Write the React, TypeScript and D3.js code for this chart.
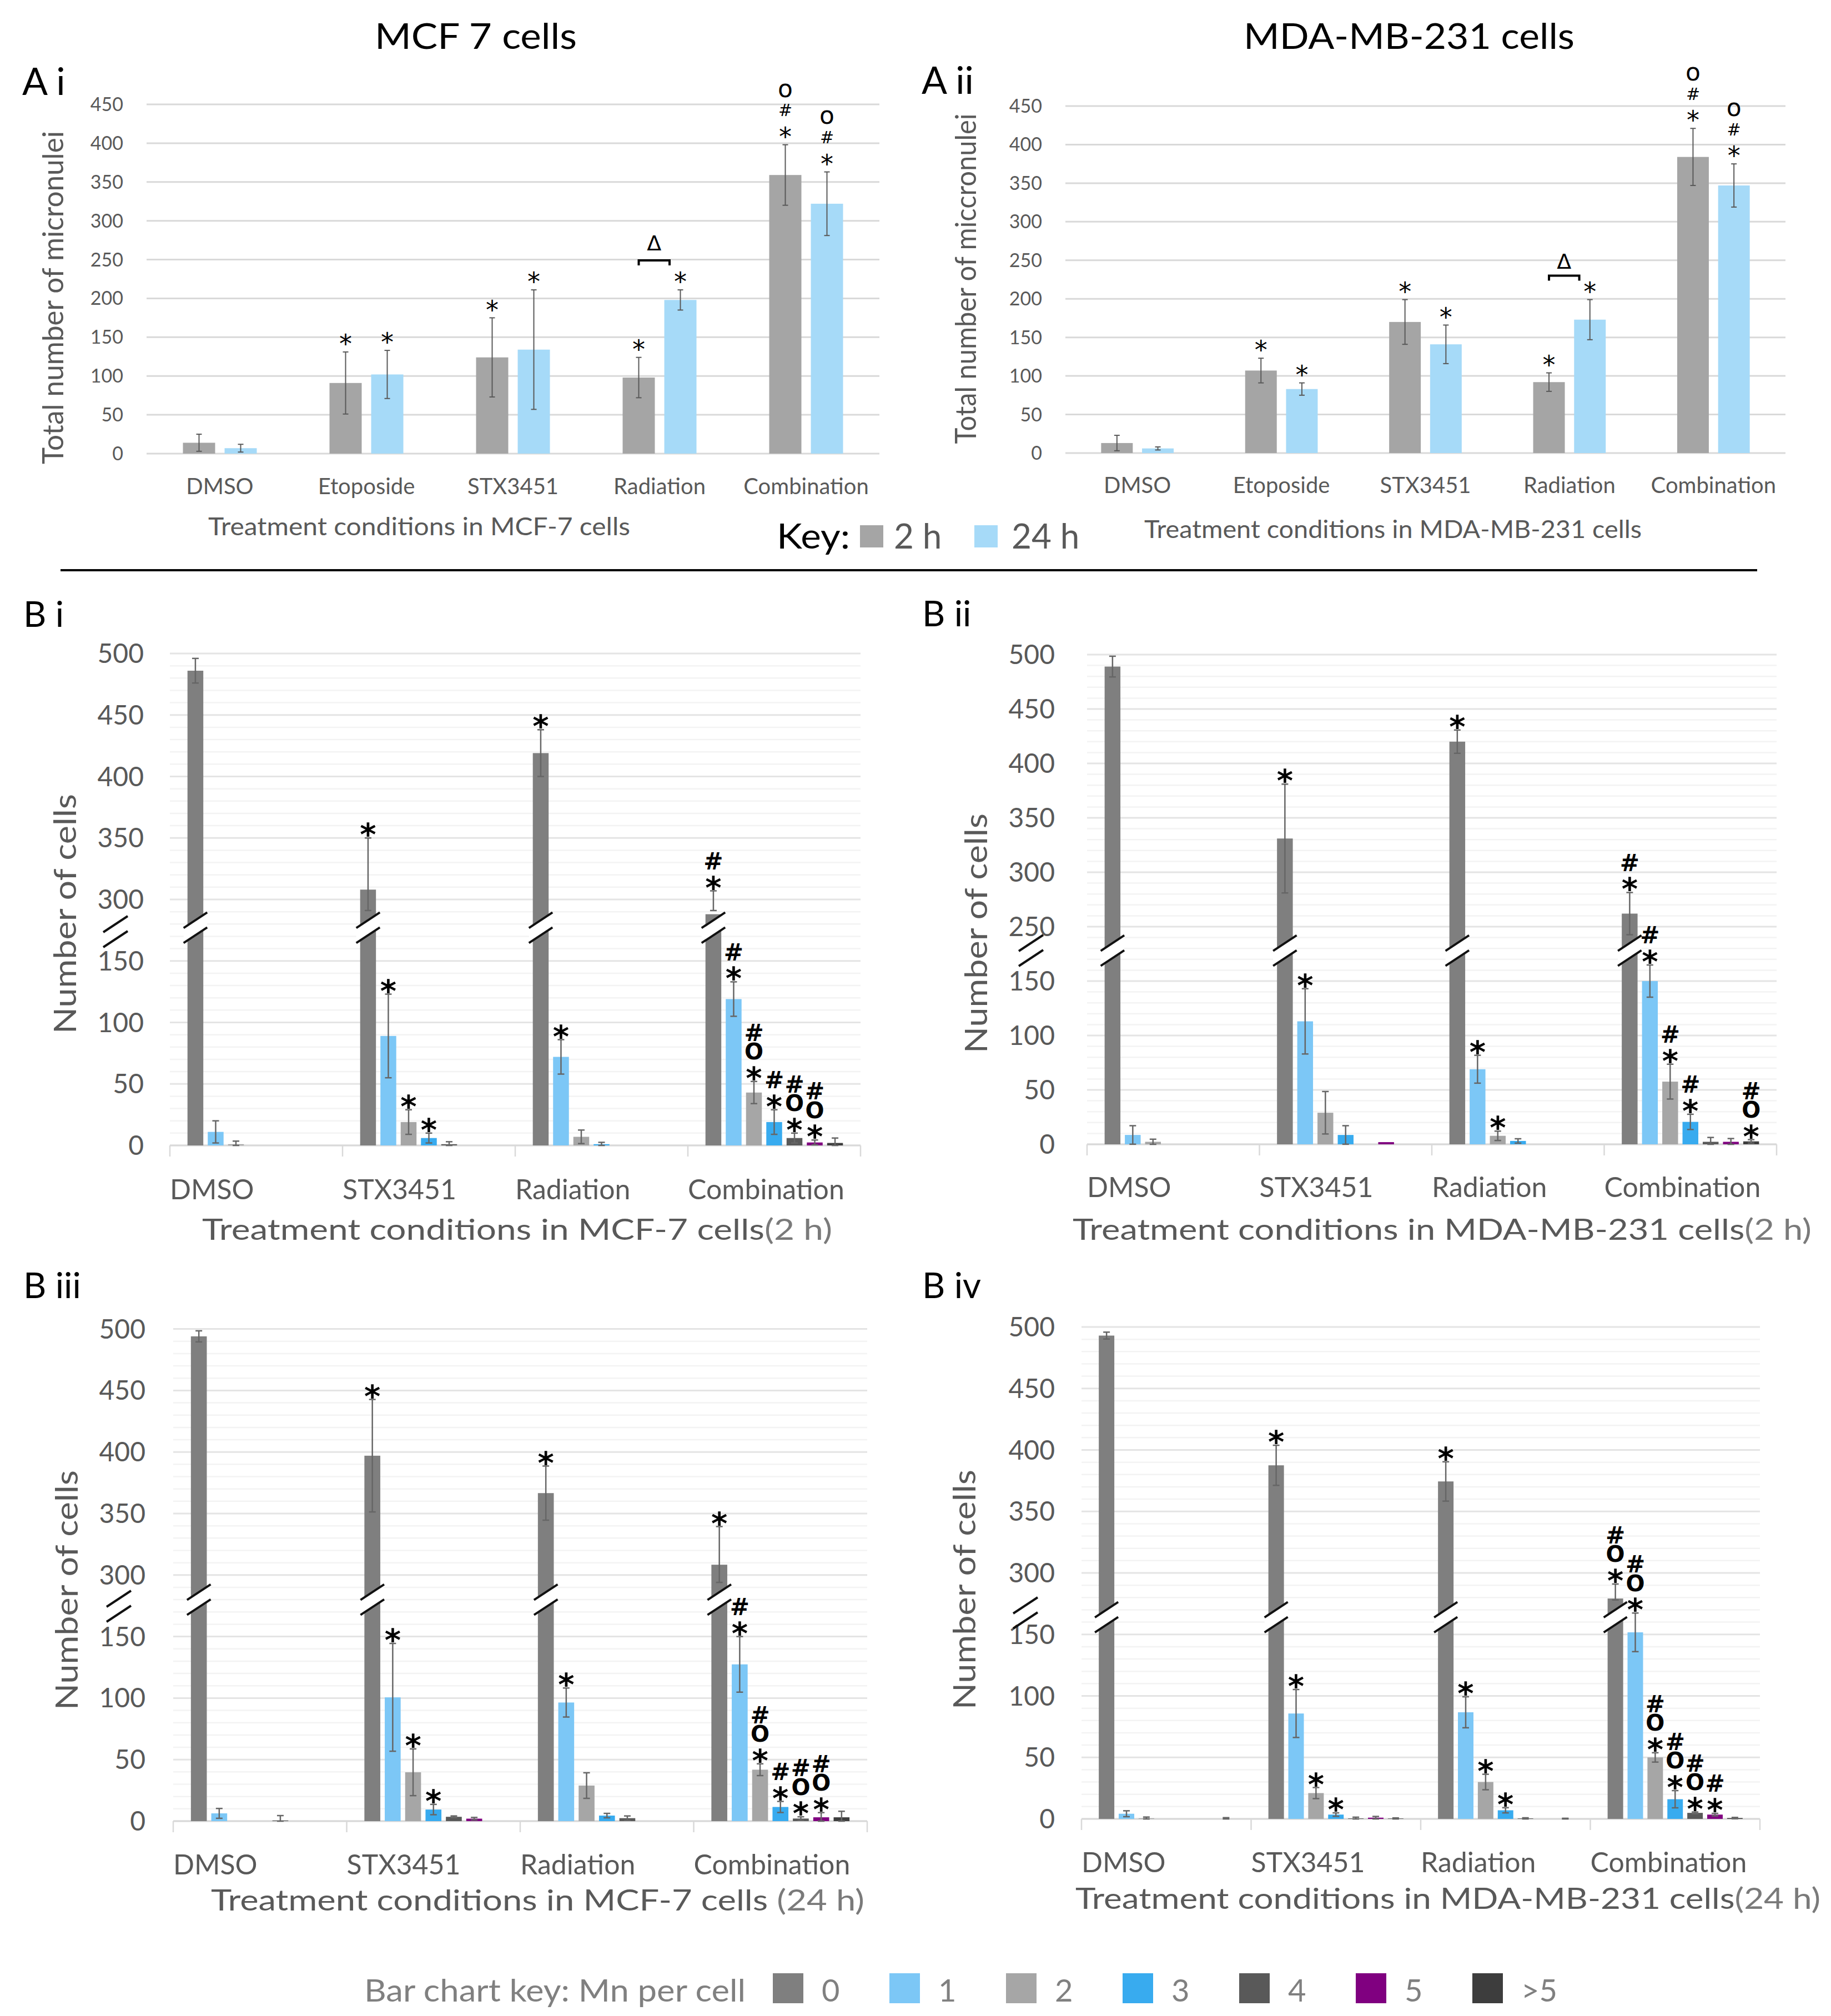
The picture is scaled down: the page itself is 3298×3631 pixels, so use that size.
import React from "react";
import * as d3 from "d3";

// ---------------- DATA ----------------
const A_CATEGORIES = ["DMSO", "Etoposide", "STX3451", "Radiation", "Combination"];
const A_SERIES = ["2 h", "24 h"];
const A_TICKS = [0, 50, 100, 150, 200, 250, 300, 350, 400, 450];

const AI_2H = [14, 91, 124, 98, 359];
const AI_2H_ERR = [11, 40, 51, 26, 39];
const AI_24H = [7, 102, 134, 198, 322];
const AI_24H_ERR = [5, 31, 77, 13, 41];
const AI_2H_SIG = ["", "*", "*", "*", "*#o"];
const AI_24H_SIG = ["", "*", "*", "*", "*#o"];
const AI_BRACKET = 249;
const AI_DELTA = 272;

const AII_2H = [13, 107, 170, 92, 384];
const AII_2H_ERR = [10, 16, 29, 12, 37];
const AII_24H = [6, 83, 141, 173, 347];
const AII_24H_ERR = [2, 8, 25, 26, 28];
const AII_2H_SIG = ["", "*", "*", "*", "*#o"];
const AII_24H_SIG = ["", "*", "*", "*", "*#o"];
const AII_BRACKET = 230;
const AII_DELTA = 249;

const B_CATEGORIES = ["DMSO", "STX3451", "Radiation", "Combination"];
const MN_CLASSES = ["0", "1", "2", "3", "4", "5", ">5"];
const MN_COLORS = ["#7f7f7f", "#7cc7f6", "#a6a6a6", "#38abef", "#595959", "#800080", "#3d3d3d"];

// B i : MCF-7, 2 h
const BI_VALUES = [
  [486, 11, 1, 0, 0, 0, 0],
  [308, 89, 19, 6, 1, 0, 0],
  [419, 72, 7, 1, 0, 0, 0],
  [288, 119, 43, 19, 6, 2.4, 2],
];
const BI_ERRORS = [
  [10, 9, 2.5, 0, 0, 0, 0],
  [42, 34, 10, 4, 2, 0, 0],
  [19, 14, 5.5, 1.5, 0, 0, 0],
  [19, 14, 9, 10, 4, 2, 4],
];
const BI_SIGS = [
  ["", "", "", "", "", "", ""],
  ["*", "*", "*", "*", "", "", ""],
  ["*", "*", "", "", "", "", ""],
  ["*#", "*#", "*O#", "*#", "*O#", "*O#", ""],
];

// B ii : MDA-MB-231, 2 h
const BII_VALUES = [
  [489, 8.6, 2.3, 0, 0, 0, 0],
  [331, 113, 29, 8.6, 0, 2, 0],
  [420, 69, 7.8, 3.1, 0, 0, 0],
  [262, 150, 57.6, 20.6, 2.3, 2.3, 2.7],
];
const BII_ERRORS = [
  [9.5, 8.5, 2.4, 0, 0, 0, 0],
  [50, 30, 19.5, 8.5, 0, 0, 0],
  [10.7, 12.8, 4.3, 2, 0, 0, 0],
  [19.4, 14.8, 16, 7, 4, 3, 1.6],
];
const BII_SIGS = [
  ["", "", "", "", "", "", ""],
  ["*", "*", "", "", "", "", ""],
  ["*", "*", "*", "", "", "", ""],
  ["*#", "*#", "*#", "*#", "", "", "*O#"],
];

// B iii : MCF-7, 24 h
const BIII_VALUES = [
  [494, 6.3, 0, 0, 0.5, 0, 0],
  [397, 100.6, 39.7, 9.4, 3.5, 2, 0],
  [366.6, 96.4, 28.9, 4.5, 2.4, 0, 0],
  [308.4, 127.4, 41.8, 11.5, 2.1, 3.1, 3.1],
];
const BIII_ERRORS = [
  [4.5, 4, 0, 0, 4, 0, 0],
  [45.7, 43.8, 19, 4.2, 0.7, 1, 0],
  [22, 11.8, 10.4, 1.8, 1.8, 0, 0],
  [31, 22.6, 4.8, 4.5, 1.4, 3.8, 4.9],
];
const BIII_SIGS = [
  ["", "", "", "", "", "", ""],
  ["*", "*", "*", "*", "", "", ""],
  ["*", "*", "", "", "", "", ""],
  ["*", "*#", "*O#", "*#", "*O#", "*O#", ""],
];

// B iv : MDA-MB-231, 24 h
const BIV_VALUES = [
  [493, 4.2, 0.5, 0, 0, 0, 0],
  [387.5, 85.7, 21, 3.5, 0.4, 1, 0.3],
  [374.4, 86.7, 30, 7, 0.4, 0, 0],
  [279.2, 151.7, 50, 16, 4.9, 3.5, 0.7],
];
const BIV_ERRORS = [
  [2.8, 2.4, 1, 0, 0, 0, 1],
  [16.3, 19.5, 4.5, 1.4, 1, 1, 0.5],
  [16, 12.6, 6.3, 2.1, 0.5, 0, 0.5],
  [11.8, 15.7, 3.8, 7, 0.7, 1, 0.5],
];
const BIV_SIGS = [
  ["", "", "", "", "", "", ""],
  ["*", "*", "*", "*", "", "", ""],
  ["*", "*", "*", "*", "", "", ""],
  ["*O#", "*O#", "*O#", "*O#", "*O#", "*#", ""],
];

// ---------------- STYLE ----------------
const FONT = "Lato, 'Open Sans', 'DejaVu Sans', sans-serif";
const SIG_FONT = "'DejaVu Sans', sans-serif";
const TXT = "#595959";
const A_COLORS = ["#a5a5a5", "#a6daf8"];
const BREAK_TH = 200;

type TP = {
  x: number; y: number; size: number; children?: React.ReactNode; anchor?: string; fill?: string;
  weight?: number | string; len?: number; rotate?: number; family?: string;
};
function Txt({ x, y, size, children, anchor = "start", fill = TXT, weight = 400, len, rotate = 0, family = FONT }: TP) {
  return (
    <text
      transform={`translate(${x},${y}) rotate(${rotate})`}
      fontSize={size}
      fontFamily={family}
      textAnchor={anchor}
      fill={fill}
      fontWeight={weight}
      textLength={len}
      lengthAdjust={len ? "spacingAndGlyphs" : undefined}
    >
      {children}
    </text>
  );
}

function Sig({ cx, top, symbols, first, step, base, star, circle, bold }: { cx: number; top: number; symbols: string; first: number; step: number; base: number; star: number; circle: number; bold: boolean }) {
  return (
    <g>
      {symbols.split("").map((ch, i) => {
        const cy = top - first - i * step;
        const size = ch === "*" ? star : ch === "o" || ch === "O" ? circle : base;
        const c = ch === "*" ? 0.59 : ch === "o" ? 0.27 : 0.36;
        return (
          <text key={i} x={cx} y={cy + c * size} fontSize={size} fontFamily={SIG_FONT} textAnchor="middle" fill="#000" fontWeight={bold ? 700 : 400}>
            {ch}
          </text>
        );
      })}
    </g>
  );
}

type ACfg = {
  x0: number; x1: number; y0: number; yTop: number; tickRight: number; yTitleX: number; yTitleY: number; yTitleLen: number;
  catY: number; xTitleX: number; xTitleY: number; xTitleLen: number; yTitle: string; xTitle: string; title: string; titleX: number; titleY: number; titleLen: number;
  label: string; labelX: number; labelY: number;
};

function PanelA({ cfg, v2, e2, v24, e24, s2, s24, bracket, delta }: { cfg: ACfg; v2: number[]; e2: number[]; v24: number[]; e24: number[]; s2: string[]; s24: string[]; bracket: number; delta: number }) {
  const x = d3.scaleBand().domain(A_CATEGORIES).range([cfg.x0, cfg.x1]);
  const bw = x.bandwidth();
  const inner = d3.scaleBand().domain(A_SERIES).range([0.216 * bw, 0.784 * bw]).paddingInner(0.227).paddingOuter(0.113);
  const ib = inner.bandwidth();
  const y = d3.scaleLinear().domain([0, 450]).range([cfg.y0, cfg.yTop]);
  const series = [
    { vals: v2, errs: e2, sigs: s2, key: A_SERIES[0], color: A_COLORS[0] },
    { vals: v24, errs: e24, sigs: s24, key: A_SERIES[1], color: A_COLORS[1] },
  ];
  const rad = "Radiation";
  const bx1 = (x(rad) as number) + (inner(A_SERIES[0]) as number) + ib / 2;
  const bx2full = (x(rad) as number) + (inner(A_SERIES[1]) as number) + ib / 2;
  const bx2 = bx1 + 0.74 * (bx2full - bx1);
  const by = y(bracket);
  return (
    <g>
      <Txt x={cfg.titleX} y={cfg.titleY} size={64} anchor="middle" fill="#000" len={cfg.titleLen}>{cfg.title}</Txt>
      <Txt x={cfg.labelX} y={cfg.labelY} size={68} fill="#000">{cfg.label}</Txt>
      {A_TICKS.map((t) => (
        <g key={t}>
          <line x1={cfg.x0} x2={cfg.x1} y1={y(t)} y2={y(t)} stroke="#d9d9d9" strokeWidth={3} />
          <Txt x={cfg.tickRight} y={y(t) + 12} size={34} anchor="end">{t}</Txt>
        </g>
      ))}
      <Txt x={cfg.yTitleX} y={cfg.yTitleY} size={52} anchor="middle" rotate={-90} len={cfg.yTitleLen}>{cfg.yTitle}</Txt>
      {A_CATEGORIES.map((c) => (
        <Txt key={c} x={(x(c) as number) + bw / 2} y={cfg.catY} size={40} anchor="middle">{c}</Txt>
      ))}
      <Txt x={cfg.xTitleX} y={cfg.xTitleY} size={44} anchor="middle" len={cfg.xTitleLen}>{cfg.xTitle}</Txt>
      {series.map((s) =>
        A_CATEGORIES.map((c, i) => {
          const bx = (x(c) as number) + (inner(s.key) as number);
          const v = s.vals[i];
          const e = s.errs[i];
          const cx = bx + ib / 2;
          return (
            <g key={s.key + c}>
              <rect x={bx} y={y(v)} width={ib} height={cfg.y0 - y(v)} fill={s.color} />
              <line x1={cx} x2={cx} y1={y(v + e)} y2={y(Math.max(0, v - e))} stroke="#595959" strokeWidth={2} />
              <line x1={cx - 5} x2={cx + 5} y1={y(v + e)} y2={y(v + e)} stroke="#595959" strokeWidth={2} />
              <line x1={cx - 5} x2={cx + 5} y1={y(Math.max(0, v - e))} y2={y(Math.max(0, v - e))} stroke="#595959" strokeWidth={2} />
              {s.sigs[i] && <Sig cx={cx} top={y(v + e)} symbols={s.sigs[i]} first={26} step={36} base={30} star={46} circle={44} bold={false} />}
            </g>
          );
        })
      )}
      <path d={`M${bx1},${by + 9} V${by} H${bx2} V${by + 9}`} fill="none" stroke="#000" strokeWidth={4} />
      <Txt x={(bx1 + bx2) / 2} y={y(delta) + 14} size={38} anchor="middle" fill="#000" family={SIG_FONT}>Δ</Txt>
    </g>
  );
}

type BCfg = {
  x0: number; x1: number; y0: number; k: number; offset: number; tickRight: number; yTitleX: number; yTitleY: number;
  catY: number; xTitleX: number; xTitleY: number; xTitleLen: number; xTitle: string; xTitleTail: string; barBreakP: number;
  axBreakX: number; axBreakY: number; label: string; labelX: number; labelY: number;
};

function BreakMarks({ xl, xr, yc, white }: { xl: number; xr: number; yc: number; white: boolean }) {
  const sep = 27;
  const rise = 29 * ((xr - xl) / 44);
  const l1 = { xa: xl, ya: yc - sep / 2 + rise / 2, xb: xr, yb: yc - sep / 2 - rise / 2 };
  const l2 = { xa: xl, ya: l1.ya + sep, xb: xr, yb: l1.yb + sep };
  return (
    <g>
      {white && <polygon points={`${l1.xa},${l1.ya} ${l1.xb},${l1.yb} ${l2.xb},${l2.yb} ${l2.xa},${l2.ya}`} fill="#fff" />}
      <line x1={l1.xa} y1={l1.ya} x2={l1.xb} y2={l1.yb} stroke="#111" strokeWidth={4} />
      <line x1={l2.xa} y1={l2.ya} x2={l2.xb} y2={l2.yb} stroke="#111" strokeWidth={4} />
    </g>
  );
}

function PanelB({ cfg, values, errors, sigs }: { cfg: BCfg; values: number[][]; errors: number[][]; sigs: string[][] }) {
  const x = d3.scaleBand().domain(B_CATEGORIES).range([cfg.x0, cfg.x1]);
  const bw = x.bandwidth();
  const inner = d3.scaleBand().domain(MN_CLASSES).range([0.089 * bw, 0.911 * bw]).paddingInner(0.22).paddingOuter(0.11);
  const ib = inner.bandwidth();
  const pMax = 500 - cfg.offset;
  const y = d3.scaleLinear().domain([0, pMax]).range([cfg.y0, cfg.y0 - pMax * cfg.k]);
  const toP = (v: number) => (v > BREAK_TH ? v - cfg.offset : v);
  const yv = (v: number) => y(toP(v));
  const grid = d3.range(0, pMax + 0.1, 10);
  const valAt = (p: number) => (p <= 175 ? p : p + cfg.offset);
  const lowTicks = [0, 50, 100, 150];
  const upTicks = d3.range(200 + cfg.offset, 500.1, 50);
  const ticks = [...lowTicks, ...upTicks];
  const bounds = d3.range(0, B_CATEGORIES.length + 1).map((i) => cfg.x0 + i * bw);
  return (
    <g>
      <Txt x={cfg.labelX} y={cfg.labelY} size={64} fill="#000">{cfg.label}</Txt>
      {grid.map((p) => {
        const major = valAt(p) % 50 === 0;
        return <line key={p} x1={cfg.x0} x2={cfg.x1} y1={y(p)} y2={y(p)} stroke={major ? "#e4e4e4" : "#f3f3f3"} strokeWidth={major ? 3 : 2.5} />;
      })}
      <line x1={cfg.x0} x2={cfg.x1} y1={cfg.y0} y2={cfg.y0} stroke="#d9d9d9" strokeWidth={3} />
      {bounds.map((bx, i) => (
        <line key={i} x1={bx} x2={bx} y1={cfg.y0} y2={cfg.y0 + 20} stroke="#d9d9d9" strokeWidth={2.5} />
      ))}
      {ticks.map((t) => (
        <Txt key={t} x={cfg.tickRight} y={yv(t) + 17} size={48} anchor="end">{t}</Txt>
      ))}
      <BreakMarks xl={cfg.axBreakX - 22} xr={cfg.axBreakX + 22} yc={cfg.axBreakY} white={false} />
      <Txt x={cfg.yTitleX} y={cfg.yTitleY} size={56} anchor="middle" rotate={-90} len={432}>Number of cells</Txt>
      {B_CATEGORIES.map((c) => (
        <Txt key={c} x={x(c) as number} y={cfg.catY} size={50}>{c}</Txt>
      ))}
      <text x={cfg.xTitleX} y={cfg.xTitleY} fontSize={53} fontFamily={FONT} fill={TXT} textLength={cfg.xTitleLen} lengthAdjust="spacingAndGlyphs">
        {cfg.xTitle}
        <tspan fill="#7a7a7a">{cfg.xTitleTail}</tspan>
      </text>
      {B_CATEGORIES.map((c, gi) =>
        MN_CLASSES.map((m, ci) => {
          const v = values[gi][ci];
          const e = errors[gi][ci];
          const bx = (x(c) as number) + (inner(m) as number);
          const cx = bx + ib / 2;
          const topV = yv(v + e);
          let lowY = cfg.y0;
          if (v > BREAK_TH) lowY = y(Math.max(toP(v) - e, cfg.barBreakP + 14));
          else lowY = y(Math.max(0, v - e));
          return (
            <g key={c + m}>
              {v > 0 && <rect x={bx} y={yv(v)} width={ib} height={cfg.y0 - yv(v)} fill={MN_COLORS[ci]} />}
              {v > BREAK_TH && <BreakMarks xl={bx - 7} xr={bx + ib + 7} yc={y(cfg.barBreakP)} white={true} />}
              {e > 0 && (
                <g stroke="#666" strokeWidth={2.5}>
                  <line x1={cx} x2={cx} y1={topV} y2={lowY} />
                  <line x1={cx - 6} x2={cx + 6} y1={topV} y2={topV} />
                  <line x1={cx - 6} x2={cx + 6} y1={lowY} y2={lowY} />
                </g>
              )}
              {sigs[gi][ci] && <Sig cx={cx} top={topV} symbols={sigs[gi][ci]} first={20} step={34} base={42} star={56} circle={40} bold={true} />}
            </g>
          );
        })
      )}
    </g>
  );
}

const AI_CFG: ACfg = {
  x0: 264, x1: 1584, y0: 817, yTop: 188, tickRight: 222, yTitleX: 114, yTitleY: 536, yTitleLen: 600,
  catY: 890, xTitleX: 755, xTitleY: 964, xTitleLen: 760, yTitle: "Total number of micronulei", xTitle: "Treatment conditions in MCF-7 cells",
  title: "MCF 7 cells", titleX: 857, titleY: 88, titleLen: 364, label: "A i", labelX: 40, labelY: 171,
};
const AII_CFG: ACfg = {
  x0: 1919, x1: 3216, y0: 816, yTop: 191, tickRight: 1877, yTitleX: 1758, yTitleY: 502, yTitleLen: 595,
  catY: 888, xTitleX: 2509, xTitleY: 969, xTitleLen: 896, yTitle: "Total number of miccronulei", xTitle: "Treatment conditions in MDA-MB-231 cells",
  title: "MDA-MB-231 cells", titleX: 2538, titleY: 88, titleLen: 596, label: "A ii", labelX: 1660, labelY: 169,
};

const BI_CFG: BCfg = {
  x0: 306, x1: 1550, y0: 2063, k: 2.215, offset: 100, tickRight: 259, yTitleX: 137, yTitleY: 1646, catY: 2160,
  xTitleX: 364, xTitleY: 2233, xTitleLen: 1135, xTitle: "Treatment conditions in MCF-7 cells", xTitleTail: "(2 h)", barBreakP: 177,
  axBreakX: 208, axBreakY: 1678, label: "B i", labelX: 42, labelY: 1129,
};
const BII_CFG: BCfg = {
  x0: 1958, x1: 3200, y0: 2061, k: 1.96, offset: 50, tickRight: 1900, yTitleX: 1778, yTitleY: 1681, catY: 2156,
  xTitleX: 1932, xTitleY: 2233, xTitleLen: 1331, xTitle: "Treatment conditions in MDA-MB-231 cells", xTitleTail: "(2 h)", barBreakP: 178,
  axBreakX: 1857, axBreakY: 1712, label: "B ii", labelX: 1661, labelY: 1128,
};
const BIII_CFG: BCfg = {
  x0: 312, x1: 1562, y0: 3280, k: 2.216, offset: 100, tickRight: 262, yTitleX: 140, yTitleY: 2864, catY: 3376,
  xTitleX: 380, xTitleY: 3441, xTitleLen: 1177, xTitle: "Treatment conditions in MCF-7 cells ", xTitleTail: "(24 h)", barBreakP: 180,
  axBreakX: 214, axBreakY: 2893, label: "B iii", labelX: 42, labelY: 2338,
};
const BIV_CFG: BCfg = {
  x0: 1948, x1: 3170, y0: 3276, k: 2.215, offset: 100, tickRight: 1900, yTitleX: 1757, yTitleY: 2863, catY: 3372,
  xTitleX: 1937, xTitleY: 3438, xTitleLen: 1342, xTitle: "Treatment conditions in MDA-MB-231 cells", xTitleTail: "(24 h)", barBreakP: 164,
  axBreakX: 1847, axBreakY: 2905, label: "B iv", labelX: 1661, labelY: 2338,
};

export default function App() {
  return (
    <div style={{ position: "absolute", left: 0, top: 0 }}>
      <svg width={3298} height={3631} viewBox="0 0 3298 3631" style={{ display: "block", background: "#fff" }}>
        <rect x={0} y={0} width={3298} height={3631} fill="#fff" />
        <PanelA cfg={AI_CFG} v2={AI_2H} e2={AI_2H_ERR} v24={AI_24H} e24={AI_24H_ERR} s2={AI_2H_SIG} s24={AI_24H_SIG} bracket={AI_BRACKET} delta={AI_DELTA} />
        <PanelA cfg={AII_CFG} v2={AII_2H} e2={AII_2H_ERR} v24={AII_24H} e24={AII_24H_ERR} s2={AII_2H_SIG} s24={AII_24H_SIG} bracket={AII_BRACKET} delta={AII_DELTA} />
        {/* Key for A */}
        <Txt x={1399} y={988} size={62} fill="#000" len={132}>Key:</Txt>
        <rect x={1549} y={946} width={42} height={40} fill={A_COLORS[0]} />
        <Txt x={1610} y={988} size={62}>{A_SERIES[0]}</Txt>
        <rect x={1755} y={946} width={42} height={40} fill={A_COLORS[1]} />
        <Txt x={1822} y={988} size={62}>{A_SERIES[1]}</Txt>
        <line x1={109} x2={3165} y1={1027} y2={1027} stroke="#000" strokeWidth={4} />
        <PanelB cfg={BI_CFG} values={BI_VALUES} errors={BI_ERRORS} sigs={BI_SIGS} />
        <PanelB cfg={BII_CFG} values={BII_VALUES} errors={BII_ERRORS} sigs={BII_SIGS} />
        <PanelB cfg={BIII_CFG} values={BIII_VALUES} errors={BIII_ERRORS} sigs={BIII_SIGS} />
        <PanelB cfg={BIV_CFG} values={BIV_VALUES} errors={BIV_ERRORS} sigs={BIV_SIGS} />
        {/* bottom legend */}
        <Txt x={656} y={3605} size={56} fill="#808080" len={687}>Bar chart key: Mn per cell</Txt>
        {MN_CLASSES.map((m, i) => (
          <g key={m}>
            <rect x={1392 + i * 210} y={3554} width={55} height={54} fill={MN_COLORS[i]} />
            <Txt x={1480 + i * 210} y={3605} size={56} fill="#808080">{m}</Txt>
          </g>
        ))}
      </svg>
    </div>
  );
}
